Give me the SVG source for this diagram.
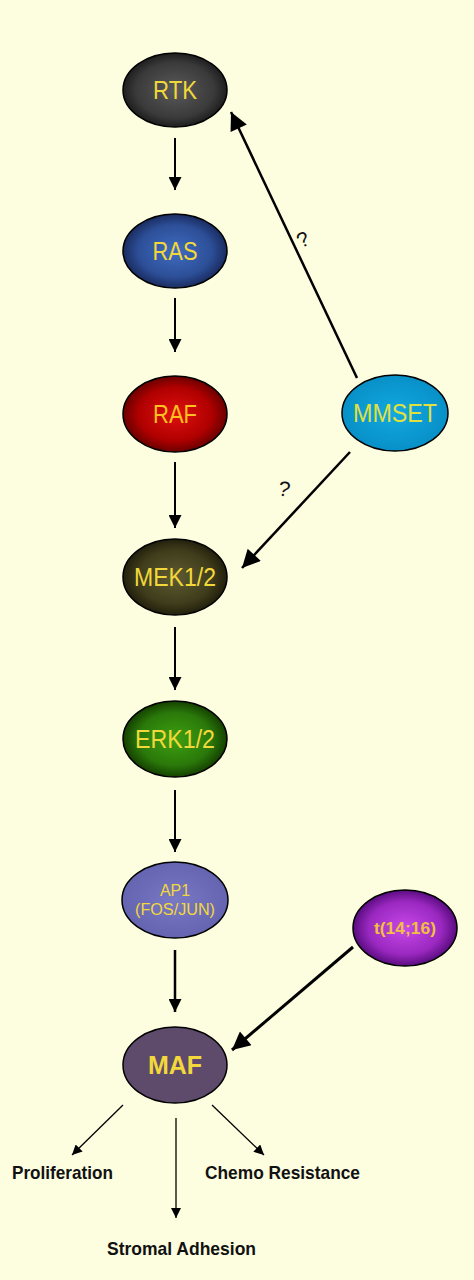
<svg xmlns="http://www.w3.org/2000/svg" width="474" height="1280" viewBox="0 0 474 1280">
<defs>
<radialGradient id="gRTK"><stop offset="0" stop-color="#5a5a5a"/><stop offset="0.75" stop-color="#3a3a3a"/><stop offset="1" stop-color="#1e1e1e"/></radialGradient>
<radialGradient id="gRAS"><stop offset="0" stop-color="#3f6cc0"/><stop offset="0.7" stop-color="#2d4f98"/><stop offset="1" stop-color="#1a2c60"/></radialGradient>
<radialGradient id="gRAF"><stop offset="0" stop-color="#e01010"/><stop offset="0.7" stop-color="#b00000"/><stop offset="1" stop-color="#6a0000"/></radialGradient>
<radialGradient id="gMM"><stop offset="0" stop-color="#12a8e0"/><stop offset="1" stop-color="#0890c8"/></radialGradient>
<radialGradient id="gMEK"><stop offset="0" stop-color="#5e5a30"/><stop offset="0.7" stop-color="#403d1c"/><stop offset="1" stop-color="#22200c"/></radialGradient>
<radialGradient id="gERK"><stop offset="0" stop-color="#3ea010"/><stop offset="0.7" stop-color="#2a780a"/><stop offset="1" stop-color="#154000"/></radialGradient>
<radialGradient id="gAP"><stop offset="0" stop-color="#7878c4"/><stop offset="1" stop-color="#6464b0"/></radialGradient>
<radialGradient id="gT"><stop offset="0" stop-color="#c848e8"/><stop offset="0.7" stop-color="#9a28c0"/><stop offset="1" stop-color="#5a0c80"/></radialGradient>
<marker id="ahs" viewBox="0 0 10 10" refX="10" refY="5" markerWidth="11" markerHeight="10" markerUnits="userSpaceOnUse" orient="auto"><path d="M0,0 L10,5 L0,10 z" fill="#000"/></marker>
<marker id="ahv" viewBox="0 0 10 10" refX="10" refY="5" markerWidth="15" markerHeight="13" markerUnits="userSpaceOnUse" orient="auto"><path d="M0,0 L10,5 L0,10 z" fill="#000"/></marker>
<marker id="ahb" viewBox="0 0 10 10" refX="10" refY="5" markerWidth="22" markerHeight="18" markerUnits="userSpaceOnUse" orient="auto"><path d="M0,0 L10,5 L0,10 z" fill="#000"/></marker>
</defs>
<style>
.n{stroke:#000;stroke-width:1.5}
.t{font-family:"Liberation Sans",Arial,sans-serif;fill:#f2d83a;text-anchor:middle}
.c{stroke:#000;fill:none}
.l{font-family:"Liberation Sans",Arial,sans-serif;font-weight:bold;fill:#111;font-size:19px}
.q{font-family:"Liberation Sans",Arial,sans-serif;font-size:21px;fill:#111;text-anchor:middle}
</style>
<rect width="474" height="1280" fill="#fdfde0"/>
<g id="connectors">
<line class="c" stroke-width="2" x1="175" y1="138" x2="175" y2="190" marker-end="url(#ahv)"/>
<line class="c" stroke-width="2" x1="175" y1="298" x2="175" y2="352" marker-end="url(#ahv)"/>
<line class="c" stroke-width="2" x1="175" y1="462" x2="175" y2="528" marker-end="url(#ahv)"/>
<line class="c" stroke-width="2" x1="175" y1="627" x2="175" y2="690" marker-end="url(#ahv)"/>
<line class="c" stroke-width="2" x1="175" y1="790" x2="175" y2="852" marker-end="url(#ahv)"/>
<line class="c" stroke-width="2.5" x1="175" y1="950" x2="175" y2="1012" marker-end="url(#ahv)"/>
<line class="c" stroke-width="2.5" x1="357" y1="378" x2="231" y2="112" marker-end="url(#ahb)"/>
<line class="c" stroke-width="2.5" x1="350" y1="452" x2="242" y2="568" marker-end="url(#ahb)"/>
<line class="c" stroke-width="3" x1="353" y1="947" x2="232" y2="1050" marker-end="url(#ahb)"/>
<line class="c" stroke-width="1.3" x1="123" y1="1105" x2="72" y2="1155" marker-end="url(#ahs)"/>
<line class="c" stroke-width="1.3" x1="176" y1="1118" x2="176" y2="1218" marker-end="url(#ahs)"/>
<line class="c" stroke-width="1.3" x1="212" y1="1105" x2="264" y2="1155" marker-end="url(#ahs)"/>
<text class="q" transform="translate(306,246) rotate(-25)">?</text>
<text class="q" transform="translate(283,496) rotate(10)">?</text>
</g>
<g id="RTK"><ellipse class="n" cx="175" cy="90" rx="52" ry="37" fill="url(#gRTK)"/><text class="t" x="175" y="99" font-size="25" textLength="44" lengthAdjust="spacingAndGlyphs">RTK</text></g>
<g id="RAS"><ellipse class="n" cx="175" cy="251" rx="52" ry="37" fill="url(#gRAS)"/><text class="t" x="175" y="260" font-size="25" textLength="45" lengthAdjust="spacingAndGlyphs">RAS</text></g>
<g id="RAF"><ellipse class="n" cx="175" cy="414" rx="52" ry="38" fill="url(#gRAF)"/><text class="t" x="175" y="423" font-size="25" textLength="44" lengthAdjust="spacingAndGlyphs" style="fill:#ffc020">RAF</text></g>
<g id="MMSET"><ellipse class="n" cx="395" cy="413" rx="53" ry="38" fill="url(#gMM)"/><text class="t" x="395" y="422" font-size="25" textLength="84" lengthAdjust="spacingAndGlyphs" style="fill:#e0e040">MMSET</text></g>
<g id="MEK12"><ellipse class="n" cx="175" cy="577" rx="52" ry="38" fill="url(#gMEK)"/><text class="t" x="175" y="586" font-size="25" textLength="82" lengthAdjust="spacingAndGlyphs">MEK1/2</text></g>
<g id="ERK12"><ellipse class="n" cx="175" cy="739" rx="52" ry="38" fill="url(#gERK)"/><text class="t" x="175" y="748" font-size="25" textLength="80" lengthAdjust="spacingAndGlyphs">ERK1/2</text></g>
<g id="AP1"><ellipse class="n" cx="175" cy="900" rx="53" ry="38" fill="url(#gAP)"/><text class="t" x="175" y="896" font-size="16">AP1</text><text class="t" x="175" y="915" font-size="16" textLength="80" lengthAdjust="spacingAndGlyphs">(FOS/JUN)</text></g>
<g id="t1416"><ellipse class="n" cx="405" cy="928" rx="52" ry="38" fill="url(#gT)"/><text class="t" x="405" y="934" font-size="17" font-weight="bold" textLength="62" lengthAdjust="spacingAndGlyphs" style="fill:#f0c040">t(14;16)</text></g>
<g id="MAF"><ellipse class="n" cx="175" cy="1065" rx="52" ry="38" fill="#5e4a6a"/><text class="t" x="175" y="1074" font-size="25" font-weight="bold">MAF</text></g>
<g id="outputs">
<text class="l" x="12" y="1179" textLength="101" lengthAdjust="spacingAndGlyphs">Proliferation</text>
<text class="l" x="205" y="1179" textLength="155" lengthAdjust="spacingAndGlyphs">Chemo Resistance</text>
<text class="l" x="107" y="1255" textLength="149" lengthAdjust="spacingAndGlyphs">Stromal Adhesion</text>
</g>
</svg>
